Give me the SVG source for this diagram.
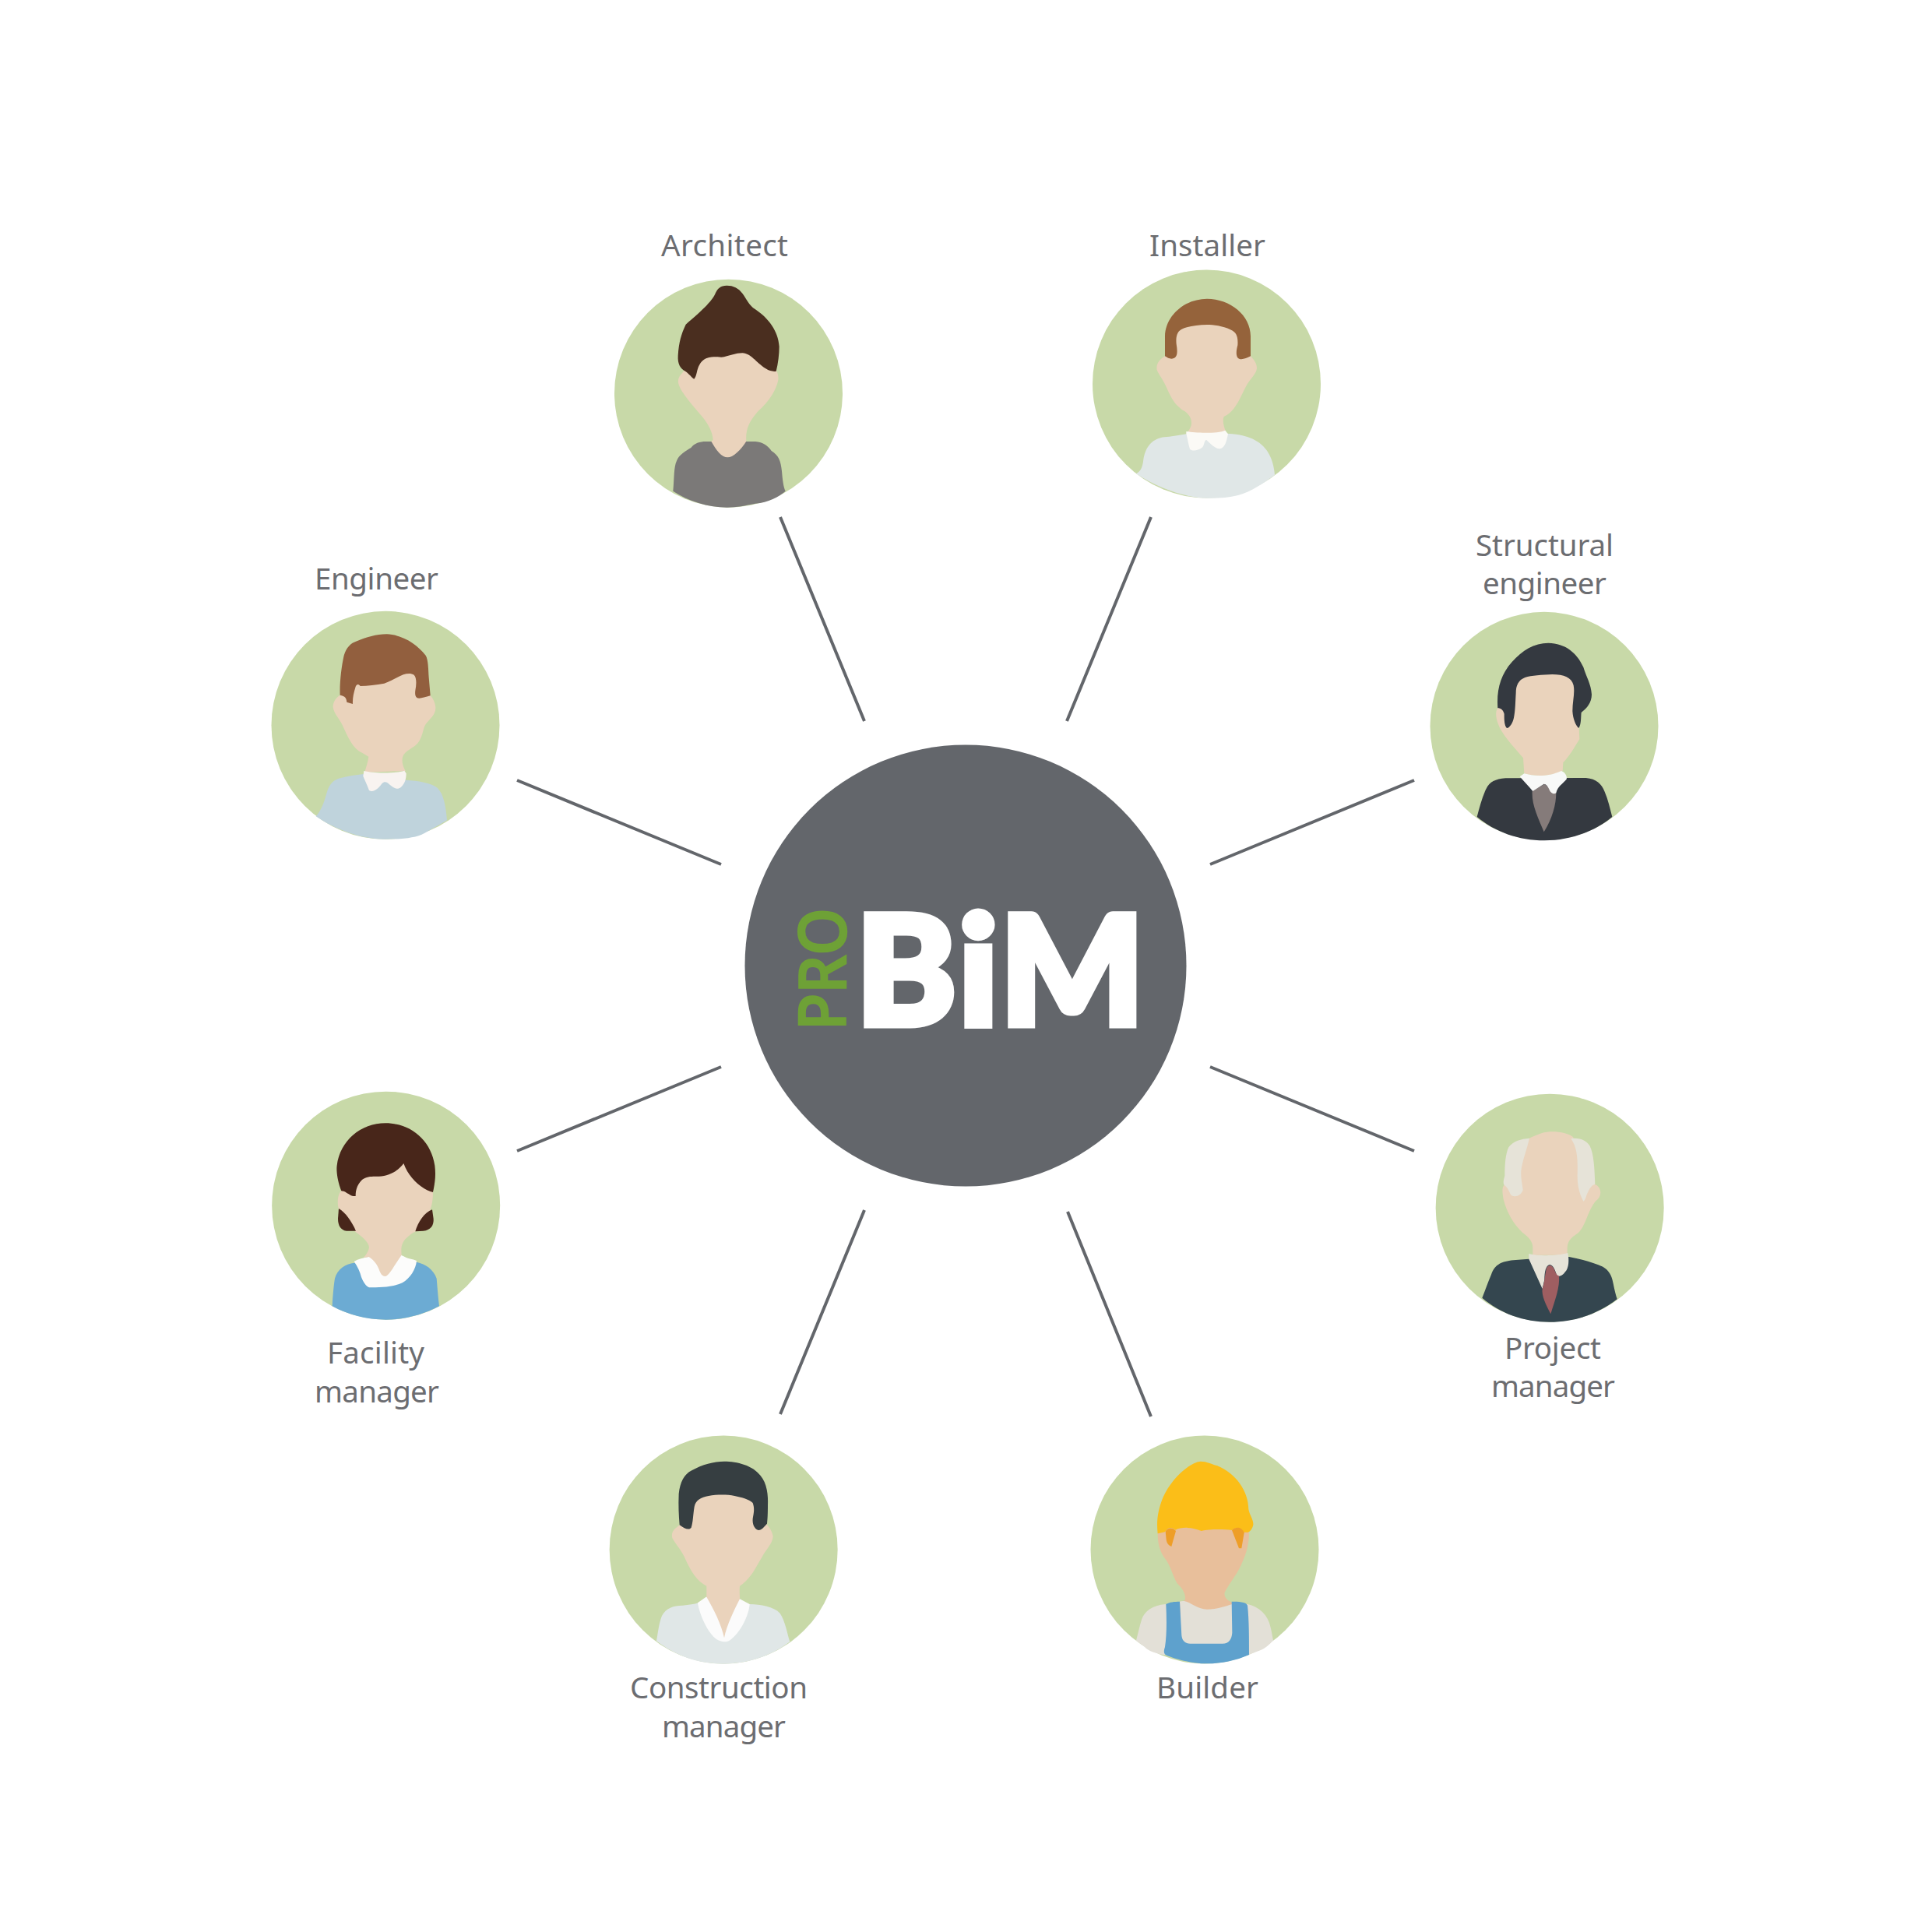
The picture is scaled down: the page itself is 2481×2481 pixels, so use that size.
<svg xmlns="http://www.w3.org/2000/svg" width="2481" height="2481" viewBox="0 0 2481 2481">
<style>
.bg{fill:#c8d9a8}
.skin{fill:#ead3bc}
.lbl{font-family:"Noto Sans","Liberation Sans",sans-serif;font-weight:400;font-size:38.500px;fill:#6c6d71}
.conn line{stroke:#63666b;stroke-width:4;fill:none}
</style>
<rect width="2481" height="2481" fill="#ffffff"/>
<g id="connectors" class="conn">
<line x1="1002" y1="664" x2="1110" y2="926"/>
<line x1="1478" y1="664" x2="1370" y2="926"/>
<line x1="664" y1="1002" x2="926" y2="1110"/>
<line x1="1816" y1="1002" x2="1554" y2="1110"/>
<line x1="664" y1="1478" x2="926" y2="1370"/>
<line x1="1816" y1="1478" x2="1554" y2="1370"/>
<line x1="1002" y1="1816" x2="1110" y2="1554"/>
<line x1="1478" y1="1819" x2="1371" y2="1556"/>
</g>
<g id="center">
<circle cx="1240" cy="1240" r="283.5" fill="#63666b"/>
<text x="1099 1231 1284" y="1315.500" font-family="Lato,'Liberation Sans',sans-serif" font-weight="900" font-size="195" fill="#ffffff" stroke="#ffffff" stroke-width="9" stroke-linejoin="miter">BiM</text>
<text transform="translate(1086,1323) rotate(-90)" font-family="'Noto Sans','Liberation Sans',sans-serif" font-weight="500" font-size="84" fill="#6ea136" stroke="#6ea136" stroke-width="2.500" textLength="157" lengthAdjust="spacingAndGlyphs">PRO</text>
</g>
<g id="architect">
<text class="lbl" x="849" y="329" textLength="163">Architect</text>
<g transform="translate(770,280) scale(.33333)">
<circle class="bg" cx="496.500" cy="675.500" r="439.500"/>
<path fill="#7b7978" d="M283 1052C288 1000 285 960 297 935C305 912 335 895 352 885C365 868 385 861 410 861L600 861C630 862 650 880 662 897C690 915 698 935 702 975C705 1010 708 1035 716 1052C690 1075 650 1095 600 1100C560 1108 530 1114 490 1115C420 1115 340 1090 283 1052Z"/>
<path class="skin" d="M320 595C305 610 298 625 306 645C320 680 365 730 395 765C420 795 435 825 437 855L430 860C450 895 470 922 493 922C515 922 545 892 565 860C562 815 575 785 610 745C650 710 680 665 688 625C690 605 685 595 680 585L640 480L400 480Z"/>
<path fill="#4a2e1f" d="M490 260C465 260 455 272 447 288C435 320 385 365 332 410C315 445 305 480 302 530C300 560 310 580 330 590C345 600 355 615 364 620C375 610 373 585 385 565C395 545 415 535 440 535C455 535 470 537 480 535C500 530 525 520 550 520C585 522 600 555 640 580C655 590 670 592 680 590C688 560 692 525 692 495C688 435 650 385 600 352C575 335 565 310 550 290C535 270 515 260 490 260Z"/>
</g>
</g>
<g id="installer">
<text class="lbl" x="1476" y="329" textLength="149">Installer</text>
<g transform="translate(1390,280) scale(.33333)">
<circle class="bg" cx="478.500" cy="639" r="439.500"/>
<path fill="#e0e7e7" d="M207 985C225 975 232 960 235 930C245 870 280 845 325 843C350 842 380 835 400 832L555 830C620 832 680 850 710 895C730 925 738 955 741 990C700 1020 650 1055 600 1068C560 1078 520 1080 480 1079C400 1078 300 1045 207 985Z"/>
<path class="skin" d="M318 532C295 545 283 565 287 585C295 605 310 620 325 655C345 700 360 725 395 745C415 760 420 775 420 790C420 805 410 820 400 830L555 830C545 805 538 780 545 765C590 745 605 695 635 640C650 615 670 600 672 578C672 560 660 545 648 532L600 400L360 400Z"/>
<path fill="#95633b" d="M318 532L318 455C320 375 395 311 480 311C570 311 648 375 648 455L648 532C630 542 610 548 600 540C590 530 593 510 598 490C600 460 595 440 570 430C540 415 505 411 480 411C440 412 400 418 380 430C362 440 360 465 362 485C366 510 368 535 352 540C340 545 330 540 318 532Z"/>
<path fill="#fbfaf6" d="M400 822C430 828 520 832 550 818L561 832C555 860 550 885 530 889C510 890 490 865 478 855C468 855 470 880 460 885C445 895 425 900 414 890C408 870 404 845 400 830Z"/>
</g>
</g>
<g id="engineer">
<text class="lbl" x="404" y="757" textLength="159">Engineer</text>
<g transform="translate(330,700) scale(.33333)">
<circle class="bg" cx="495" cy="694" r="439.500"/>
<path fill="#bfd3dc" d="M227 1045C250 1020 260 985 270 950C280 920 295 905 320 898C350 890 380 885 410 882L575 905C620 908 670 915 695 935C720 960 728 1010 732 1060C700 1080 670 1095 645 1110C610 1130 550 1133 490 1133C400 1133 300 1095 227 1045Z"/>
<path class="skin" d="M320 578C300 590 292 610 293 625C297 650 315 665 330 695C350 740 370 785 405 800L430 815C428 835 420 855 415 875L572 870C560 850 555 825 565 808C580 785 610 780 625 755C640 730 640 705 650 690C665 670 688 655 688 628C688 610 678 590 668 580L620 480L370 500Z"/>
<path fill="#925f3e" d="M320 578C318 530 325 470 335 425C345 395 360 378 385 370C420 355 460 343 500 343C560 345 615 380 650 425C660 440 660 480 662 510L668 580C650 585 635 590 625 590C610 590 608 575 610 560C615 535 615 510 605 500C590 490 565 495 540 510C520 520 500 530 490 533C460 538 425 542 398 543C390 535 385 535 380 545C372 570 368 590 369 612L346 605C345 590 340 582 320 578Z"/>
<path fill="#f8f3f0" d="M412 870C450 880 530 880 568 869L575 880C575 900 570 920 555 932C540 945 525 935 510 922C500 910 490 910 482 918C470 935 450 955 432 945C425 925 415 905 409 890Z"/>
</g>
</g>
<g id="structural-engineer">
<text class="lbl" x="1895" y="714" textLength="177">Structural</text>
<text class="lbl" x="1904" y="763" textLength="159">engineer</text>
<g transform="translate(1820,660) scale(.33333)">
<circle class="bg" cx="489" cy="817" r="439.500"/>
<path fill="#343940" d="M230 1167C240 1130 250 1090 265 1060C280 1030 300 1022 340 1018L650 1017C690 1020 710 1040 722 1070C735 1100 743 1135 751 1167C680 1225 590 1258 490 1258C390 1258 300 1225 230 1167Z"/>
<path fill="#857b7a" d="M443 1068L490 1040L535 1075C535 1120 520 1175 488 1225C465 1170 440 1120 443 1068Z"/>
<path class="skin" d="M310 748C300 760 303 785 310 805C325 850 370 895 408 940L412 1000C450 1010 500 1015 560 990L562 958C585 935 605 900 625 868L622 800L610 590L370 590Z"/>
<path fill="#f8f9f8" d="M395 1012L412 1000C450 1010 500 1015 555 990C570 995 578 1010 575 1022C560 1040 540 1050 535 1075C525 1082 515 1075 510 1065C505 1050 495 1040 488 1040L445 1068C430 1050 410 1030 395 1012Z"/>
<path fill="#343940" d="M310 748C305 680 320 620 365 570C405 525 450 497 505 497C570 498 615 535 640 590C650 625 670 655 672 695C672 730 650 750 632 765C630 785 632 810 622 825C610 815 600 790 598 760C598 720 608 690 602 660C595 630 565 618 520 618C480 620 440 622 415 630C390 640 380 660 380 690C378 720 378 760 372 785C368 805 355 825 345 825C335 815 335 790 335 770C330 755 322 748 310 748Z"/>
</g>
</g>
<g id="project-manager">
<text class="lbl" x="1932" y="1745" textLength="124">Project</text>
<text class="lbl" x="1915" y="1794" textLength="159">manager</text>
<g transform="translate(1820,1400) scale(.33333)">
<circle class="bg" cx="510.500" cy="453.500" r="439.500"/>
<path fill="#34464f" d="M250 800C262 770 272 740 285 710C300 670 325 660 370 655L430 650L585 642C630 650 680 665 715 680C740 695 750 715 755 745C760 770 765 790 770 805C700 860 610 893 510 893C410 893 320 860 250 800Z"/>
<path class="skin" d="M335 365C325 375 328 395 332 420C345 470 370 515 405 548C430 565 445 585 445 605L445 635L578 635L578 605C580 575 600 565 620 550C650 520 655 470 685 430C705 415 712 395 700 375C690 360 680 360 670 368L600 180C580 165 545 158 510 160C480 162 455 175 432 185Z"/>
<path fill="#e6e3d8" d="M432 185C400 188 370 195 352 220C340 245 337 285 337 330C332 345 330 360 335 365C350 375 355 395 362 405C380 415 400 405 407 385C405 360 398 340 400 310C405 270 422 230 432 185Z"/>
<path fill="#e6e3d8" d="M592 187C620 182 650 190 665 215C680 245 683 300 685 362C670 365 660 385 652 405C648 418 645 425 640 428C625 400 617 370 617 330C618 280 620 225 592 187Z"/>
<path fill="#e6e3d8" d="M430 630C470 640 540 638 580 627C585 650 585 685 570 700C560 715 545 720 538 715C530 690 525 675 510 672C495 675 490 700 490 730L482 765L430 650Z"/>
<path fill="#9f5e61" d="M497 690C500 675 515 665 528 690C532 705 540 715 546 715C550 760 530 810 514 862C495 825 478 790 482 765C490 745 492 710 497 690Z"/>
</g>
</g>
<g id="facility-manager">
<text class="lbl" x="420" y="1751" textLength="125">Facility</text>
<text class="lbl" x="404" y="1801" textLength="160">manager</text>
<g transform="translate(330,1400) scale(.33333)">
<circle class="bg" cx="497" cy="444.500" r="439.500"/>
<path fill="#6cabd3" d="M290 832C292 790 296 750 300 725C310 690 340 668 375 665L615 662C650 670 680 690 692 725C695 760 698 800 702 832C640 865 570 884 497 884C420 884 350 865 290 832Z"/>
<path fill="#fcfcfb" d="M374 660C390 650 410 645 430 642L555 635L565 640C580 650 600 650 615 657C612 690 590 725 560 742C520 760 470 760 432 760C420 755 410 740 402 720C397 700 388 680 374 660Z"/>
<path class="skin" d="M325 388C312 400 310 425 312 445C320 490 360 530 385 550C405 565 430 585 432 605C430 620 420 635 410 645L430 642C445 650 460 665 470 690C478 715 490 720 500 715C515 705 535 665 557 635C555 610 555 595 570 575C585 560 600 548 610 545C630 520 650 490 665 465C675 445 678 420 678 390L560 250L380 300Z"/>
<path fill="#48261a" d="M315 456C340 470 365 505 381 542L345 542C322 540 312 520 312 495Z"/>
<path fill="#48261a" d="M675 460C645 470 620 510 610 544L640 542C670 540 682 520 680 495Z"/>
<path fill="#48261a" d="M325 388C310 350 305 310 308 290C320 195 400 127 495 127C590 127 670 190 685 290C690 330 685 360 678 393C640 385 585 340 565 282C545 310 510 330 470 332C445 332 425 330 405 345C385 365 380 385 380 408C365 410 355 400 345 395C338 390 330 388 325 388Z"/>
</g>
</g>
<g id="construction-manager">
<text class="lbl" x="809" y="2181" textLength="228">Construction</text>
<text class="lbl" x="850" y="2231" textLength="159">manager</text>
<g transform="translate(770,1840) scale(.33333)">
<circle class="bg" cx="477.500" cy="450" r="439.500"/>
<path fill="#e0e7e7" d="M219 802C225 770 228 735 240 705C255 675 285 665 320 665C345 663 365 660 380 655L578 660C620 662 670 668 695 695C715 725 722 770 733 805C660 860 570 890 477 890C380 890 295 860 219 802Z"/>
<path fill="#fbfbfb" d="M378 655L410 632L540 640L578 660C575 700 545 770 500 800C485 808 465 805 450 795C415 770 385 700 378 655Z"/>
<path class="skin" d="M310 355C285 370 275 385 280 405C290 425 310 445 325 475C345 520 370 570 412 590L412 632C440 680 470 740 480 790C490 740 520 680 540 640C540 620 538 605 540 590C585 560 600 520 625 480C640 450 665 430 668 400C665 380 655 365 645 355L600 220L360 220Z"/>
<path fill="#363e41" d="M308 355C305 320 303 280 305 235C310 190 325 160 355 145C395 122 440 110 480 110C530 110 590 125 620 165C645 195 650 240 648 280C648 310 647 330 645 350C635 360 625 375 612 375C595 370 588 350 590 330C595 305 597 290 590 270C575 255 545 248 520 243C490 237 450 238 420 243C390 248 370 260 365 285C360 315 360 345 353 365C345 375 330 372 308 355Z"/>
</g>
</g>
<g id="builder">
<text class="lbl" x="1485" y="2181" textLength="131">Builder</text>
<g transform="translate(1390,1840) scale(.33333)">
<circle class="bg" cx="471" cy="450" r="439.500"/>
<path fill="#e3e0d7" d="M207 800C215 770 220 745 228 720C240 685 270 665 320 660L636 660C680 670 715 700 725 750C730 770 732 785 735 800C720 815 705 830 685 838L640 855L310 855C280 848 255 842 240 825Z"/>
<path fill="#e8bf9b" d="M290 385C290 420 295 450 315 480C340 510 345 545 365 580C385 600 400 620 395 645L375 652L375 700L580 700L575 652C555 645 545 630 548 615C565 580 600 540 615 500C630 470 642 430 642 385L600 340L340 340Z"/>
<path fill="#e3e0d7" d="M375 650C410 640 430 678 480 680C520 680 550 668 577 660L577 780L382 790Z"/>
<path fill="#5ea1cd" d="M322 660C335 652 355 650 375 650L382 780C384 800 395 812 415 812L540 812C565 812 575 795 577 770L575 650C600 650 630 650 636 665C642 720 642 790 642 855C590 878 530 890 475 889C420 888 350 870 320 855C312 848 314 838 318 825C325 780 325 720 322 660Z"/>
<path fill="#fbbe18" d="M290 388C285 340 290 300 310 250C340 180 410 115 455 110C480 110 495 120 520 127C590 155 640 225 640 295C645 320 660 335 658 355C655 370 645 382 638 383L620 383C610 365 590 362 576 375C550 372 490 370 458 378C430 365 385 360 358 374C345 362 328 362 318 382Z"/>
<path fill="#ee9e28" d="M320 380C325 368 345 360 360 378L343 438C330 432 325 425 323 410Z"/>
<path fill="#ee9e28" d="M576 375C590 362 612 360 623 385L613 445L603 445Z"/>
</g>
</g>
</svg>
